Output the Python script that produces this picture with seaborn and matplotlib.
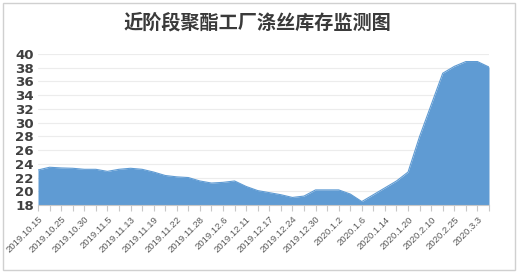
import matplotlib
matplotlib.use("Agg")
import matplotlib.pyplot as plt
import seaborn as sns
import numpy as np
import pandas as pd
from matplotlib.patches import Rectangle

title = "近阶段聚酯工厂涤丝库存监测图"

tick_labels = ["2019.10.15", "2019.10.25", "2019.10.30", "2019.11.5", "2019.11.13",
               "2019.11.19", "2019.11.22", "2019.11.28", "2019.12.6", "2019.12.11",
               "2019.12.17", "2019.12.24", "2019.12.30", "2020.1.2", "2020.1.6",
               "2020.1.14", "2020.1.20", "2020.2.10", "2020.2.25", "2020.3.3"]

inventory = [23.1, 23.5, 23.4, 23.35, 23.2, 23.2, 22.9, 23.2, 23.35, 23.2,
             22.8, 22.3, 22.1, 22.0, 21.5, 21.2, 21.3, 21.5, 20.7, 20.1,
             19.8, 19.5, 19.1, 19.3, 20.2, 20.2, 20.2, 19.6, 18.5, 19.5,
             20.5, 21.5, 22.8, 28.0, 32.6, 37.2, 38.2, 38.9, 38.9, 38.1]

y_ticks = list(range(18, 41, 2))

sns.set_theme(style="white")
plt.rcParams['font.family'] = ['Noto Sans CJK SC', 'DejaVu Sans']

df = pd.DataFrame({"idx": np.arange(len(inventory)), "value": inventory})

fig = plt.figure(figsize=(5.21, 2.76), dpi=100)
fig.patch.set_facecolor("white")
fig.patches.append(Rectangle((3/521, 1-270/276), 512/521, 267/276,
                             transform=fig.transFigure, fill=False,
                             edgecolor="#d0d0d0", linewidth=1.0))

ax = fig.add_axes([38/521, 1-205/276, (489-38)/521, (205-54)/276])
color = "#5f9bd3"
sns.lineplot(data=df, x="idx", y="value", ax=ax, color=color, linewidth=0.8)
ax.fill_between(df["idx"], df["value"], 18, color=color, linewidth=0)

ax.set_xlim(0, len(inventory) - 1)
ax.set_ylim(18, 40)
ax.set_yticks(y_ticks)
ax.set_yticklabels([str(v) for v in y_ticks], fontsize=9.6, fontweight="bold",
                   color="#404040", family=["DejaVu Sans"])
ax.yaxis.grid(True, color="#ececec", linewidth=0.8)
ax.set_axisbelow(True)

ax.set_xticks(np.arange(len(inventory)), minor=True)
ax.set_xticks(np.arange(0, len(inventory), 2)[:len(tick_labels)])
ax.set_xticklabels(tick_labels, rotation=45, ha="right", rotation_mode="anchor",
                   fontsize=6.8, color="#595959", family=["Liberation Sans"])
ax.tick_params(axis="x", which="both", length=4, color="#c8c8c8", width=0.8,
               bottom=True, pad=3)
ax.tick_params(axis="y", length=0, pad=3)

for s in ["top", "right", "left"]:
    ax.spines[s].set_visible(False)
ax.spines["bottom"].set_color("#c8c8c8")
ax.spines["bottom"].set_linewidth(0.8)
ax.set_xlabel("")
ax.set_ylabel("")

fig.text(257/521, 1-23/276, title, ha="center", va="center", fontsize=13.8,
         fontweight="bold", color="#3a3a3a", family=["Noto Sans CJK SC"])

fig.savefig("out.png", dpi=100, facecolor="white")
